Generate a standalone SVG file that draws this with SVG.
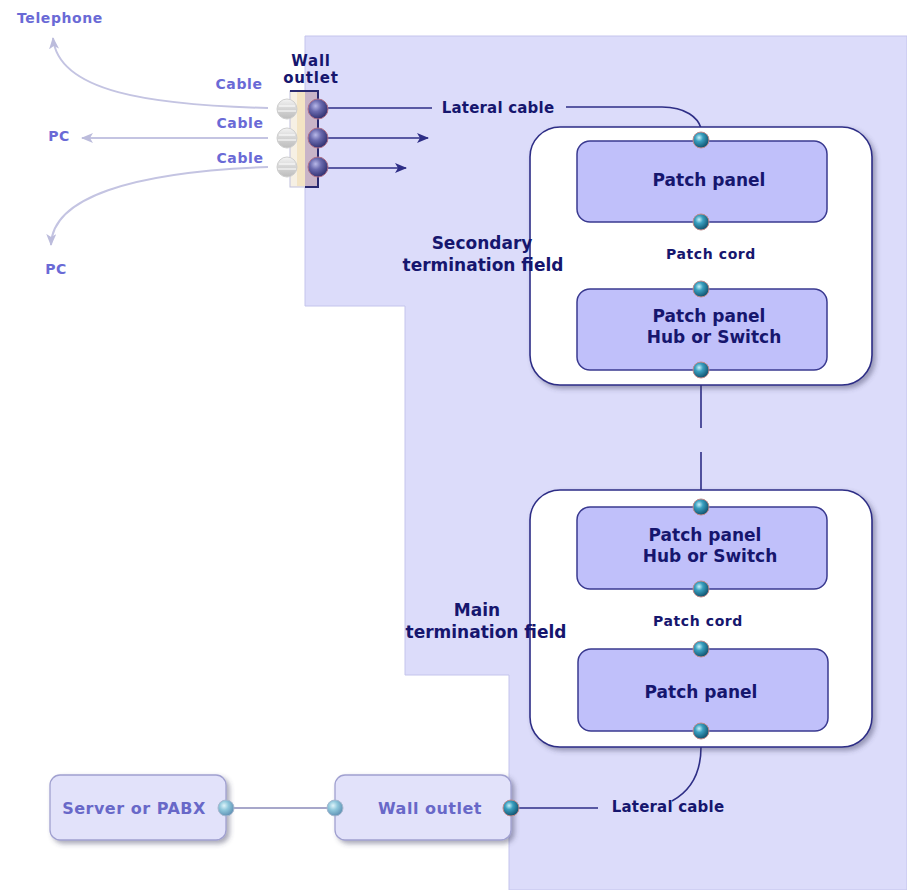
<svg xmlns="http://www.w3.org/2000/svg" width="907" height="890" viewBox="0 0 907 890">
<defs>
<style>
.t{font-family:"DejaVu Sans","Verdana",sans-serif;font-weight:bold;fill:#16166e;text-anchor:middle}
.big{font-size:17px}
.mid{font-size:15px;letter-spacing:0.2px}
.sm{font-size:14px;letter-spacing:0.6px}
.wl{font-size:15px;letter-spacing:0.8px}
.lt{font-family:"DejaVu Sans","Verdana",sans-serif;font-weight:bold;fill:#6a6ad6;text-anchor:middle;font-size:14px;letter-spacing:0.6px}
.bt{font-family:"DejaVu Sans","Verdana",sans-serif;font-weight:bold;fill:#6868c8;text-anchor:middle;font-size:16px;letter-spacing:0.5px}
.outer{fill:#ffffff;stroke:#2e2e86;stroke-width:1.6}
.inner{fill:#c0c0fa;stroke:#3a3a90;stroke-width:1.5}
.lbox{fill:#e2e2fa;stroke:#a0a0d0;stroke-width:1.3}
.wire{fill:none;stroke:#2e2e86;stroke-width:1.6}
.lwire{fill:none;stroke:#c4c4e2;stroke-width:2}
</style>
<radialGradient id="dot" cx="0.38" cy="0.35" r="0.7">
<stop offset="0" stop-color="#c8f2fa"/>
<stop offset="0.35" stop-color="#3aa0c0"/>
<stop offset="1" stop-color="#0c4a66"/>
</radialGradient>
<radialGradient id="dotl" cx="0.38" cy="0.35" r="0.7">
<stop offset="0" stop-color="#e0f4fa"/>
<stop offset="0.4" stop-color="#90c8dc"/>
<stop offset="1" stop-color="#5a8cb0"/>
</radialGradient>
<radialGradient id="navy" cx="0.38" cy="0.35" r="0.7">
<stop offset="0" stop-color="#b8b8e8"/>
<stop offset="0.4" stop-color="#6a6aae"/>
<stop offset="1" stop-color="#2a2a6a"/>
</radialGradient>
<linearGradient id="grey" x1="0" y1="0" x2="0" y2="1">
<stop offset="0" stop-color="#f4f4f4"/>
<stop offset="0.5" stop-color="#d4d4d4"/>
<stop offset="1" stop-color="#bdbdbd"/>
</linearGradient>
<filter id="sh" x="-10%" y="-10%" width="125%" height="125%">
<feDropShadow dx="3" dy="3" stdDeviation="2.5" flood-color="#404060" flood-opacity="0.45"/>
</filter>
<marker id="ad" viewBox="0 0 12 10" refX="11" refY="5" markerWidth="12" markerHeight="10" markerUnits="userSpaceOnUse" orient="auto">
<path d="M0,0 L12,5 L0,10 L3,5 Z" fill="#2e2e86"/>
</marker>
<marker id="al" viewBox="0 0 12 10" refX="11" refY="5" markerWidth="12" markerHeight="10" markerUnits="userSpaceOnUse" orient="auto">
<path d="M0,0 L12,5 L0,10 L3,5 Z" fill="#bcbcdc"/>
</marker>
</defs>
<rect width="907" height="890" fill="#ffffff"/>
<g id="building">
<path d="M305,36 L907,36 L907,890 L509,890 L509,675 L405,675 L405,306 L305,306 Z" fill="#dcdcfa" stroke="#c4c4ec" stroke-width="1"/>
</g>
<g id="connectors">
<path class="lwire" d="M268,108 C150,105 58,92 53,38" marker-end="url(#al)"/>
<path class="lwire" d="M268,138 L82,138" marker-end="url(#al)"/>
<path class="lwire" d="M268,167 C130,172 52,198 51,245" marker-end="url(#al)"/>
<path class="wire" d="M318,108 L432,108"/>
<path class="wire" d="M318,138 L428,138" marker-end="url(#ad)"/>
<path class="wire" d="M318,168 L406,168" marker-end="url(#ad)"/>
<path class="wire" d="M566,107 L662,107 C686,107 698,118 701,128"/>
<path class="wire" d="M701,385 L701,428"/>
<path class="wire" d="M701,452 L701,491"/>
<path class="wire" d="M701,747 C701,772 692,790 672,801"/>
<path class="wire" d="M511,808 L598,808"/>
<path d="M226,808 L335,808" fill="none" stroke="#8a8ab8" stroke-width="1.5"/>
</g>
<g id="wall-outlet-top">
<rect x="290" y="91" width="28" height="96" fill="#f6f0e4" stroke="#c0c0dc" stroke-width="1"/>
<rect x="297" y="92" width="8" height="94" fill="#f3e4c4"/>
<rect x="305" y="92" width="12" height="94" fill="#c8b4c8"/>
<path d="M290,91 L318,91 L318,187 L305,187" fill="none" stroke="#2a2a70" stroke-width="2"/>
<g stroke="#cfcfcf" stroke-width="1">
<circle cx="287" cy="109" r="10" fill="url(#grey)"/>
<circle cx="287" cy="138" r="10" fill="url(#grey)"/>
<circle cx="287" cy="167" r="10" fill="url(#grey)"/>
</g>
<g stroke="#ffffff" stroke-width="1.2">
<path d="M279,106 L295,106 M278,111 L296,111"/>
<path d="M279,135 L295,135 M278,140 L296,140"/>
<path d="M279,164 L295,164 M278,169 L296,169"/>
</g>
<g stroke="#b07088" stroke-width="1">
<circle cx="318" cy="109" r="10" fill="url(#navy)"/>
<circle cx="318" cy="138" r="10" fill="url(#navy)"/>
<circle cx="318" cy="167" r="10" fill="url(#navy)"/>
</g>
<text class="t wl" x="311" y="66">Wall</text>
<text class="t wl" x="311" y="83">outlet</text>
</g>
<g id="labels-left">
<text class="lt" x="60" y="23">Telephone</text>
<text class="lt" x="239" y="89">Cable</text>
<text class="lt" x="240" y="128">Cable</text>
<text class="lt" x="240" y="163">Cable</text>
<text class="lt" x="59" y="141">PC</text>
<text class="lt" x="56" y="274">PC</text>
<text class="t mid" x="498" y="113">Lateral cable</text>
<text class="t mid" x="668" y="812">Lateral cable</text>
</g>
<g id="secondary-field">
<rect class="outer" x="530" y="127" width="342" height="258" rx="30" filter="url(#sh)"/>
<text class="t big" x="482" y="249">Secondary</text>
<text class="t big" x="483" y="271">termination field</text>
<text class="t sm" x="711" y="259">Patch cord</text>
</g>
<g id="sec-patch-panel">
<rect class="inner" x="577" y="141" width="250" height="81" rx="13"/>
<text class="t big" x="709" y="186">Patch panel</text>
</g>
<g id="sec-hub-switch">
<rect class="inner" x="577" y="289" width="250" height="81" rx="13"/>
<text class="t big" x="709" y="322">Patch panel</text>
<text class="t big" x="714" y="343">Hub or Switch</text>
</g>
<g id="main-field">
<rect class="outer" x="530" y="490" width="342" height="257" rx="30" filter="url(#sh)"/>
<text class="t big" x="477" y="616">Main</text>
<text class="t big" x="486" y="638">termination field</text>
<text class="t sm" x="698" y="626">Patch cord</text>
</g>
<g id="main-hub-switch">
<rect class="inner" x="577" y="507" width="250" height="82" rx="13"/>
<text class="t big" x="705" y="541">Patch panel</text>
<text class="t big" x="710" y="562">Hub or Switch</text>
</g>
<g id="main-patch-panel">
<rect class="inner" x="578" y="649" width="250" height="82" rx="13"/>
<text class="t big" x="701" y="698">Patch panel</text>
</g>
<g id="dots" stroke="#c08a8a" stroke-width="1">
<circle cx="701" cy="140" r="8" fill="url(#dot)"/>
<circle cx="701" cy="222" r="8" fill="url(#dot)"/>
<circle cx="701" cy="289" r="8" fill="url(#dot)"/>
<circle cx="701" cy="370" r="8" fill="url(#dot)"/>
<circle cx="701" cy="507" r="8" fill="url(#dot)"/>
<circle cx="701" cy="589" r="8" fill="url(#dot)"/>
<circle cx="701" cy="649" r="8" fill="url(#dot)"/>
<circle cx="701" cy="731" r="8" fill="url(#dot)"/>
</g>
<g id="server-pabx">
<rect class="lbox" x="50" y="775" width="176" height="65" rx="10" filter="url(#sh)"/>
<text class="bt" x="134" y="814">Server or PABX</text>
<circle cx="226" cy="808" r="8" fill="url(#dotl)" stroke="#a8b8d0" stroke-width="1"/>
</g>
<g id="wall-outlet-bottom">
<rect class="lbox" x="335" y="775" width="176" height="65" rx="10" filter="url(#sh)"/>
<text class="bt" x="430" y="814">Wall outlet</text>
<circle cx="335" cy="808" r="8" fill="url(#dotl)" stroke="#a8b8d0" stroke-width="1"/>
<circle cx="511" cy="808" r="8" fill="url(#dot)" stroke="#c08a8a" stroke-width="1"/>
</g>
</svg>
